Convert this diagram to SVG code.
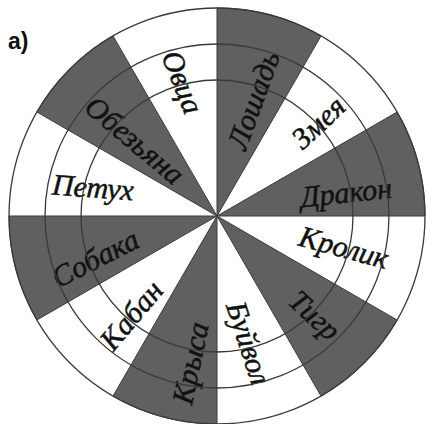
<svg xmlns="http://www.w3.org/2000/svg" width="426" height="424" viewBox="0 0 426 424">
<style>
.dark{fill:#606060;stroke:#3a3a3a;stroke-width:1}
.ring{fill:none;stroke:#3a3a3a;stroke-width:1.3}
.lbl{font-family:"Liberation Serif","DejaVu Serif",serif;font-style:italic;font-size:30px;fill:#111;stroke:#111;stroke-width:0.5;text-anchor:middle;dominant-baseline:central}
.tag{font-family:"Liberation Sans","DejaVu Sans",sans-serif;font-weight:bold;font-size:23px;fill:#111}
</style>
<rect width="426" height="424" fill="#fff"/>
<g id="sectors">
<g id="horse"><path class="dark" d="M217,216 L321,35.9 A208,208 0 0 0 217,8 Z"/><text class="lbl" transform="translate(253,100) rotate(-70)">Лошадь</text></g>
<g id="snake"><text class="lbl" transform="translate(318,122) rotate(-43)">Змея</text></g>
<g id="dragon"><path class="dark" d="M217,216 L425,216 A208,208 0 0 0 397.1,112 Z"/><text class="lbl" transform="translate(346,192) rotate(-6)">Дракон</text></g>
<g id="rabbit"><text class="lbl" transform="translate(344,247) rotate(15)">Кролик</text></g>
<g id="tiger"><path class="dark" d="M217,216 L321,396.1 A208,208 0 0 0 397.1,320 Z"/><text class="lbl" transform="translate(315,315) rotate(43)">Тигр</text></g>
<g id="buffalo"><text class="lbl" transform="translate(249,343) rotate(72)">Буйвол</text></g>
<g id="rat"><path class="dark" d="M217,216 L113,396.1 A208,208 0 0 0 217,424 Z"/><text class="lbl" transform="translate(190,363) rotate(-78)">Крыса</text></g>
<g id="boar"><text class="lbl" transform="translate(131,315) rotate(-50)">Кабан</text></g>
<g id="dog"><path class="dark" d="M217,216 L9,216 A208,208 0 0 0 36.9,320 Z"/><text class="lbl" transform="translate(95,258) rotate(-27)">Собака</text></g>
<g id="rooster"><text class="lbl" transform="translate(93,187) rotate(4)">Петух</text></g>
<g id="monkey"><path class="dark" d="M217,216 L113,35.9 A208,208 0 0 0 36.9,112 Z"/><text class="lbl" transform="translate(135,140) rotate(40)">Обезьяна</text></g>
<g id="sheep"><text class="lbl" transform="translate(183,82) rotate(68)">Овца</text></g>
</g>
<g id="connectors">
<circle class="ring" cx="217" cy="216" r="208"/>
<circle class="ring" cx="217" cy="216" r="172"/>
<circle class="ring" cx="217" cy="216" r="136"/>
</g>
<text class="tag" x="8" y="49">а)</text>
</svg>
